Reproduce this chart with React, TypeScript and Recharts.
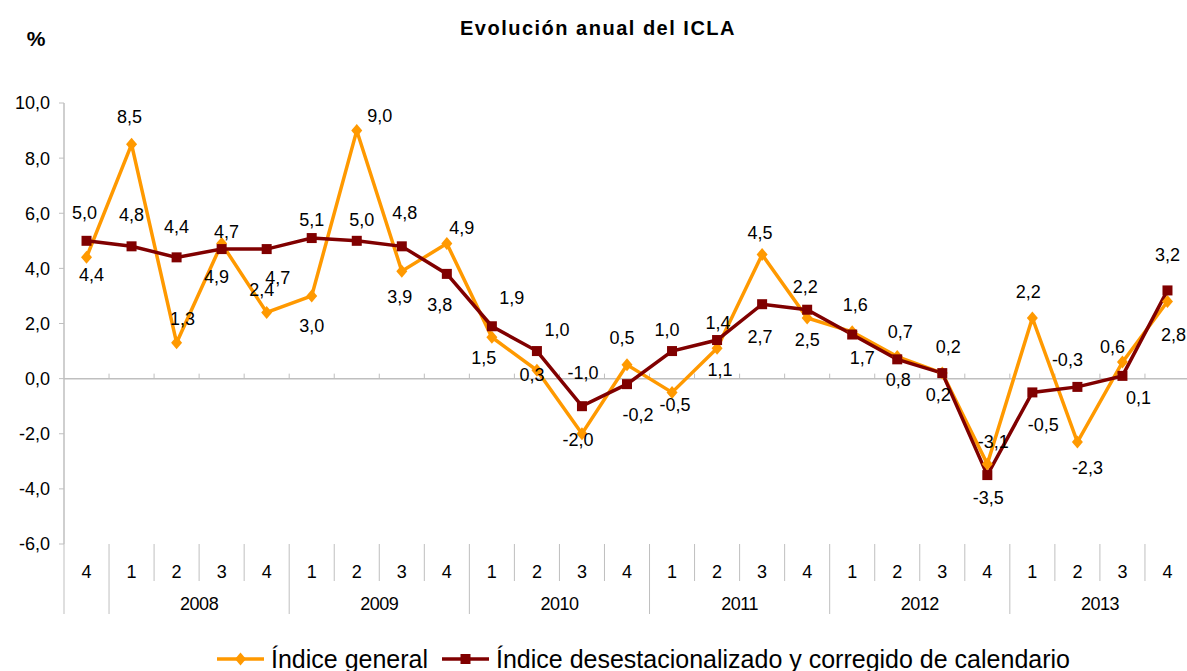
import { LabelList, Line, LineChart, ReferenceLine, XAxis, YAxis } from "recharts";

// 2007 T4 .. 2013 T4
const quarters = ["4", "1", "2", "3", "4", "1", "2", "3", "4", "1", "2", "3", "4", "1", "2", "3", "4", "1", "2", "3", "4", "1", "2", "3", "4"];
const years = ["2007", "2008", "2008", "2008", "2008", "2009", "2009", "2009", "2009", "2010", "2010", "2010", "2010", "2011", "2011", "2011", "2011", "2012", "2012", "2012", "2012", "2013", "2013", "2013", "2013"];
const indiceGeneral = [4.4, 8.5, 1.3, 4.9, 2.4, 3.0, 9.0, 3.9, 4.9, 1.5, 0.3, -2.0, 0.5, -0.5, 1.1, 4.5, 2.2, 1.7, 0.8, 0.2, -3.1, 2.2, -2.3, 0.6, 2.8];
const indiceDesestacionalizado = [5.0, 4.8, 4.4, 4.7, 4.7, 5.1, 5.0, 4.8, 3.8, 1.9, 1.0, -1.0, -0.2, 1.0, 1.4, 2.7, 2.5, 1.6, 0.7, 0.2, -3.5, -0.5, -0.3, 0.1, 3.2];
const yTicks = [-6, -4, -2, 0, 2, 4, 6, 8, 10];

// where each data label sits relative to its marker (dx, dy), as in the original
const generalLabelPos = [[5, 18], [-2, -27], [6, -24], [-5, 33], [-5, -22], [0, 30], [23, -15], [-2, 26], [15, -16], [-8, 21], [-5, 5], [-4, 6], [-5, -27], [3, 13], [3, 22], [-2, -22], [-2, -31], [10, 26], [1, 23], [-4, 22], [6, -22], [-4, -26], [10, 26], [-10, -15], [6, 34]];
const desestLabelPos = [[-2, -28], [0, -31], [0, -30], [5, -17], [11, 29], [0, -18], [5, -21], [3, -33], [-7, 31], [20, -28], [20, -21], [1, -33], [11, 31], [-5, -21], [1, -17], [-2, 33], [0, 30], [3, -30], [3, -27], [6, -26], [1, 23], [11, 33], [-10, -27], [16, 22], [0, -35]];

const data = quarters.map((q, i) => ({
  period: `${years[i]}-${q}`,
  general: indiceGeneral[i],
  desest: indiceDesestacionalizado[i],
}));

const FONT = "'Liberation Sans', Arial, sans-serif";
const ORANGE = "#FF9900";
const DARK_RED = "#800000";
const AXIS = "#BFBFBF";
const CHART_W = 1200;
const Y_AXIS_W = 64;
const RIGHT = 10;
const BAND = (CHART_W - Y_AXIS_W - RIGHT) / quarters.length;
const X_AXIS_H = 70;

const fmt = (v: number) => v.toFixed(1).replace(".", ",");

function QuarterTick(props: any) {
  const { x, y, index } = props;
  const left = x - BAND / 2;
  const yearStart = index === 0 || quarters[index] === "1";
  const showYear = quarters[index] === "2" && quarters[index + 1] === "3";
  return (
    <g>
      <line x1={left} y1={y} x2={left} y2={y + (yearStart ? X_AXIS_H : 37)} stroke={AXIS} strokeWidth={1} />
      <text x={x} y={y + 28} textAnchor="middle" dominantBaseline="central" fontSize={18} fontFamily={FONT} fill="#000">
        {quarters[index]}
      </text>
      {showYear && (
        <text x={x + BAND / 2} y={y + 60} textAnchor="middle" dominantBaseline="central" fontSize={18} fontFamily={FONT} fill="#000" letterSpacing={-0.5}>
          {years[index]}
        </text>
      )}
    </g>
  );
}

function ZeroLine(props: any) {
  const { x1, x2, y1 } = props;
  const step = (x2 - x1) / quarters.length;
  return (
    <g>
      <line x1={x1} y1={y1} x2={x2} y2={y1} stroke={AXIS} strokeWidth={1.5} />
      {quarters.map((_, i) => (
        <line key={i} x1={x1 + step * (i + 1)} y1={y1 - 5} x2={x1 + step * (i + 1)} y2={y1} stroke={AXIS} strokeWidth={1} />
      ))}
    </g>
  );
}

function Diamond(props: any) {
  const { cx, cy, index } = props;
  if (cx == null || cy == null) return <g key={index} />;
  return <path key={index} d={`M${cx},${cy - 6.5}L${cx + 5.5},${cy}L${cx},${cy + 6.5}L${cx - 5.5},${cy}Z`} fill={ORANGE} />;
}

function Square(props: any) {
  const { cx, cy, index } = props;
  if (cx == null || cy == null) return <g key={index} />;
  return <rect key={index} x={cx - 5} y={cy - 5} width={10} height={10} fill={DARK_RED} />;
}

function makeLabel(pos: number[][]) {
  return (props: any) => {
    const { x, y, value, index } = props;
    const [dx, dy] = pos[index] || [0, -20];
    return (
      <text x={x + dx} y={y + dy} textAnchor="middle" dominantBaseline="central" fontSize={18} fontFamily={FONT} fill="#000">
        {fmt(Number(value))}
      </text>
    );
  };
}

export default function App() {
  return (
    <div style={{ position: "fixed", left: 0, top: 0, width: 1187, height: 671, overflow: "hidden", background: "#fff" }}>
      <LineChart
        width={CHART_W}
        height={671}
        data={data}
        margin={{ top: 103, right: RIGHT, left: 0, bottom: 671 - 544 - X_AXIS_H }}
      >
        <ReferenceLine y={0} shape={ZeroLine} />
        <XAxis
          dataKey="period"
          scale="band"
          interval={0}
          height={X_AXIS_H}
          axisLine={false}
          tickLine={false}
          tickSize={0}
          tickMargin={0}
          tick={QuarterTick}
        />
        <YAxis
          width={Y_AXIS_W}
          domain={[-6, 10]}
          ticks={yTicks}
          interval={0}
          allowDataOverflow
          tickFormatter={fmt}
          axisLine={{ stroke: AXIS, strokeWidth: 1.5 }}
          tickLine={{ stroke: AXIS }}
          tickSize={5}
          tickMargin={9}
          tick={{ fontSize: 18, fontFamily: FONT, fill: "#000" }}
        />
        <Line dataKey="general" stroke={ORANGE} strokeWidth={3.5} dot={false} activeDot={false} isAnimationActive={false} />
        <Line dataKey="desest" stroke={DARK_RED} strokeWidth={3.5} dot={false} activeDot={false} isAnimationActive={false} />
        <Line dataKey="general" stroke="none" dot={Diamond} activeDot={false} isAnimationActive={false}>
          <LabelList dataKey="general" content={makeLabel(generalLabelPos)} />
        </Line>
        <Line dataKey="desest" stroke="none" dot={Square} activeDot={false} isAnimationActive={false}>
          <LabelList dataKey="desest" content={makeLabel(desestLabelPos)} />
        </Line>
      </LineChart>

      <svg width={1187} height={671} style={{ position: "absolute", left: 0, top: 0, pointerEvents: "none" }}>
        <text x={598} y={35} textAnchor="middle" fontSize={20} fontWeight="bold" letterSpacing={1.5} fontFamily={FONT} fill="#000">
          Evolución anual del ICLA
        </text>
        <text x={36} y={46} textAnchor="middle" fontSize={21} fontWeight="bold" fontFamily={FONT} fill="#000">
          %
        </text>
        <g>
          <line x1={217} y1={659} x2={264} y2={659} stroke={ORANGE} strokeWidth={3.5} />
          <path d="M240.5,652.5L246,659L240.5,665.5L235,659Z" fill={ORANGE} />
          <text x={271} y={668} fontSize={25} fontFamily={FONT} fill="#000">Índice general</text>
          <line x1={442} y1={659} x2={489} y2={659} stroke={DARK_RED} strokeWidth={3.5} />
          <rect x={460.5} y={654} width={10} height={10} fill={DARK_RED} />
          <text x={496} y={668} fontSize={25} fontFamily={FONT} fill="#000">Índice desestacionalizado y corregido de calendario</text>
        </g>
      </svg>
    </div>
  );
}
